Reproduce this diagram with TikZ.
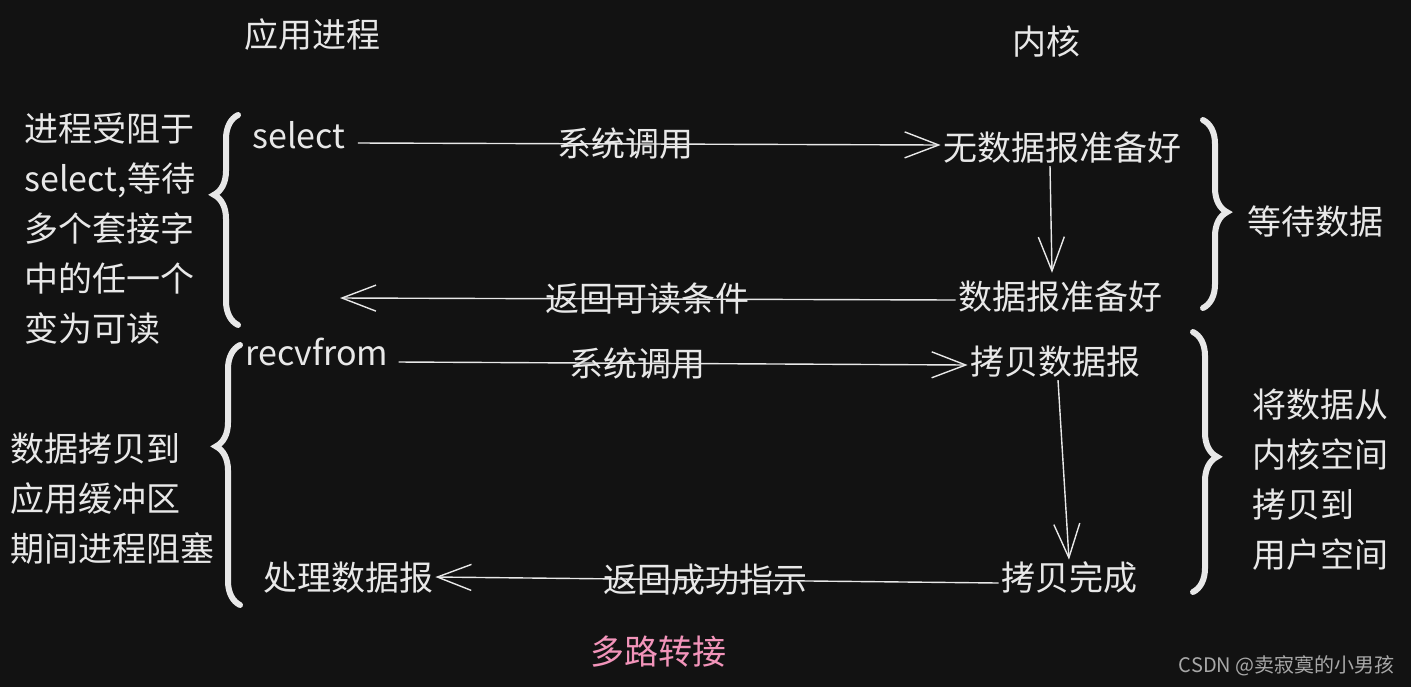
\documentclass[tikz,border=0pt]{standalone}
\usepackage{fontspec}
\newfontfamily\cjk{Noto Sans CJK SC}
\usepackage{tikz}
\usetikzlibrary{arrows.meta,decorations.pathreplacing}
\definecolor{bg}{HTML}{121212}
\definecolor{ink}{HTML}{E8E8E8}
\definecolor{titlepink}{HTML}{F294BA}
\definecolor{wmgray}{HTML}{A8A8A8}
\tikzset{
  txt/.style={text=ink,font=\cjk\fontsize{17}{25}\selectfont,inner sep=1pt},
  call/.style={draw=ink,line width=0.7pt,-{Straight Barb[length=17pt,width=13pt]}},
  brc/.style={draw=ink,line width=3pt,line cap=round,decorate,
    decoration={brace,amplitude=12pt,aspect=#1}},
}

\begin{document}
\begin{tikzpicture}[x=0.5pt,y=-0.5pt]
\fill[bg] (0,0) rectangle (1411,687);
\useasboundingbox (0,0) rectangle (1411,687);

\node[txt] (app) at (312,35) {应用进程};
\node[txt] (kern) at (1046,42) {内核};

\node[txt,align=left,anchor=west] (wait1) at (22,229) {进程受阻于\\select,等待\\多个套接字\\中的任一个\\变为可读};
\node[txt,anchor=west] (sel) at (250,135) {select};
\node[txt] (nodata) at (1062,148) {无数据报准备好};
\node[txt] (ready) at (1060,297) {数据报准备好};
\node[txt,anchor=west] (waitdata) at (1245,222) {等待数据};
\coordinate (back1) at (340,298);

\node[txt,anchor=west] (recv) at (243,352) {recvfrom};
\node[txt] (copy) at (1055,362) {拷贝数据报};
\node[txt] (done) at (1069,578) {拷贝完成};
\node[txt] (handle) at (348,578) {处理数据报};
\node[txt,align=left,anchor=west] (block) at (8,499) {数据拷贝到\\应用缓冲区\\期间进程阻塞};
\node[txt,align=left,anchor=west] (move) at (1250,480) {将数据从\\内核空间\\拷贝到\\用户空间};

\node[txt,text=titlepink] (title) at (658,652) {多路转接};
\node[text=wmgray,font=\cjk\fontsize{10}{12}\selectfont,anchor=east,inner sep=0pt] (wm) at (1395,666) {CSDN @卖寂寞的小男孩};

\draw[call] ([xshift=5pt,yshift=-4pt]sel.east) -- ([yshift=1.5pt]nodata.west)
  node[txt,pos=.46] (sys1) {系统调用};
\draw[call] ([xshift=-6pt]nodata.south) -- ([xshift=-4pt,yshift=3pt]ready.north);
\draw[call] ([yshift=-1.5pt]ready.west) -- (back1)
  node[txt,pos=.5] (ret1) {返回可读条件};

\draw[call] ([xshift=4pt,yshift=-5pt]recv.east) -- ([yshift=-1.5pt]copy.west)
  node[txt,pos=.42] (sys2) {系统调用};
\draw[call] ([xshift=1.5pt]copy.south) -- (done.north);
\draw[call] ([yshift=-2.5pt]done.west) -- ([yshift=0.5pt]handle.east)
  node[txt,pos=.52] (ret2) {返回成功指示};

\coordinate (l1a) at (238,325); \coordinate (l1b) at (238,115);
\coordinate (r1a) at (1203,120); \coordinate (r1b) at (1203,308);
\coordinate (l2a) at (240,605); \coordinate (l2b) at (240,345);
\coordinate (r2a) at (1193,332); \coordinate (r2b) at (1193,592);
\draw[brc=0.62] (l1a) -- (l1b);
\draw[brc=0.49] (r1a) -- (r1b);
\draw[brc=0.61] (l2a) -- (l2b);
\draw[brc=0.48] (r2a) -- (r2b);
\end{tikzpicture}
\end{document}
